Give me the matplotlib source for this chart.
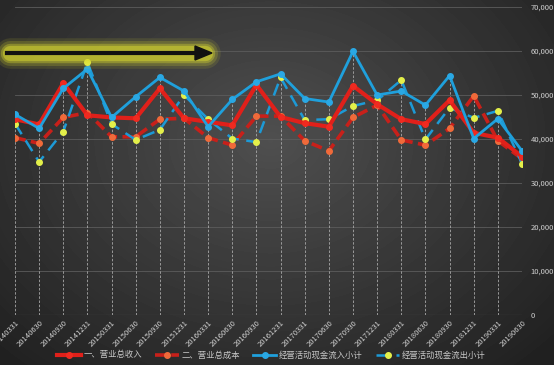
import numpy as np
import matplotlib

matplotlib.use("Agg")
import matplotlib.pyplot as plt
from matplotlib.ticker import FuncFormatter

plt.rcParams["font.family"] = ["Noto Sans CJK SC", "DejaVu Sans"]

dates = [
    "20140331", "20140630", "20140930", "20141231", "20150331", "20150630",
    "20150930", "20151231", "20160331", "20160630", "20160930", "20161231",
    "20170331", "20170630", "20170930", "20171231", "20180331", "20180630",
    "20180930", "20181231", "20190331", "20190630",
]
revenue = [44500, 43300, 52700, 45400, 44900, 44700, 51500, 44700, 43900, 43100, 52300, 45000,
           43600, 42800, 52100, 47900, 44500, 43400, 48800, 41400, 40300, 36000]
cost = [40300, 39000, 44900, 46000, 40500, 40500, 44500, 44700, 40300, 38600, 45200, 45200,
        39600, 37300, 44900, 47700, 39800, 38600, 42400, 49800, 39600, 35500]
cash_in = [45600, 42400, 51500, 55900, 44900, 49600, 54000, 50900, 42800, 49000, 53000, 54800,
           49200, 48400, 59900, 50000, 50900, 47700, 54400, 40100, 44600, 37300]
cash_out = [43500, 34800, 41700, 57400, 43400, 39800, 42100, 50000, 44500, 40100, 39300, 54000,
            44300, 44500, 47500, 48800, 53400, 39900, 47100, 44800, 46400, 34400]
names = ["一、营业总收入", "二、营业总成本", "经营活动现金流入小计", "经营活动现金流出小计"]

W, H = 554, 365
fig = plt.figure(figsize=(W / 100, H / 100), dpi=100)

# radial grey background
bg = fig.add_axes([0, 0, 1, 1], zorder=-10)
yy, xx = np.mgrid[0:H, 0:W]
r = np.sqrt(((xx - 270) / 380.0) ** 2 + ((yy - 140) / 300.0) ** 2)
shade = np.clip(0.31 - 0.18 * r, 0.13, 0.31)
bg.imshow(shade, cmap="gray", vmin=0, vmax=1, aspect="auto", extent=[0, 1, 0, 1])
bg.set_axis_off()

ax = fig.add_axes([15 / W, 50 / H, (522 - 15) / W, (315 - 7) / H])
ax.patch.set_alpha(0)
x = np.arange(len(dates))

# horizontal grid + drop lines
for v in range(10000, 70001, 10000):
    ax.axhline(v, color="#5c5c5c", lw=0.6, zorder=0)
ax.axhline(0, color="#666666", lw=0.8, zorder=0)
tops = np.max([revenue, cost, cash_in, cash_out], axis=0)
ax.vlines(x, 0, tops, colors="#a8a8a8", linestyles=(0, (3, 2)), lw=0.6, zorder=1)

ax.plot(x, cost, color="#c8201a", lw=2.6, ls=(0, (3, 1.5)), marker="o", ms=4,
        mfc="#f06a3a", mec="#f06a3a", zorder=3, label=names[1])
ax.plot(x, cash_out, color="#1d9ad6", lw=1.8, ls=(0, (5, 3)), marker="o", ms=4,
        mfc="#e4f04a", mec="#e4f04a", zorder=4, label=names[3])
ax.plot(x, revenue, color="#e0201a", lw=3.0, marker="o", ms=4,
        mfc="#f02a20", mec="#f02a20", zorder=5, label=names[0])
ax.plot(x, cash_in, color="#1fa0dc", lw=2.0, marker="o", ms=4,
        mfc="#2aa8e4", mec="#2aa8e4", zorder=6, label=names[2])

ax.set_xlim(0, len(dates) - 1)
ax.set_ylim(0, 70000)
ax.set_xticks(x)
ax.set_xticklabels(dates, rotation=45, ha="right", rotation_mode="anchor",
                   fontsize=5.5, color="#d0d0d0")
ax.yaxis.tick_right()
ax.set_yticks(range(0, 70001, 10000))
ax.yaxis.set_major_formatter(FuncFormatter(lambda v, p: f"{int(v):,}"))
ax.tick_params(axis="y", length=0, pad=6, labelsize=5.5, labelcolor="#d0d0d0")
ax.tick_params(axis="x", length=0, pad=3)
for s in ax.spines.values():
    s.set_visible(False)

handles, labels = ax.get_legend_handles_labels()
order = [2, 0, 3, 1]
leg = fig.legend([handles[i] for i in order], [labels[i] for i in order],
                 loc="center", bbox_to_anchor=(0.49, 10 / H), ncol=4, frameon=False,
                 fontsize=6, handlelength=2.8, columnspacing=1.6, handletextpad=0.3)
for t in leg.get_texts():
    t.set_color("#c8c8c8")

# glowing arrow
ya = 1 - 53 / H
for lw, a in [(22, 0.12), (18, 0.2), (14, 0.35), (11, 0.5)]:
    fig.add_artist(plt.Line2D([10 / W, 205 / W], [ya, ya], color="#d8d830", lw=lw,
                              alpha=a, solid_capstyle="round", transform=fig.transFigure,
                              zorder=8))
fig.add_artist(plt.Line2D([7 / W, 198 / W], [ya, ya], color="#111111", lw=3,
                          transform=fig.transFigure, zorder=10))
fig.add_artist(plt.Polygon([[195 / W, ya + 7 / H], [212 / W, ya], [195 / W, ya - 7 / H]],
                           closed=True, color="#111111", transform=fig.transFigure,
                           zorder=10))

fig.savefig("out.png", dpi=100)
